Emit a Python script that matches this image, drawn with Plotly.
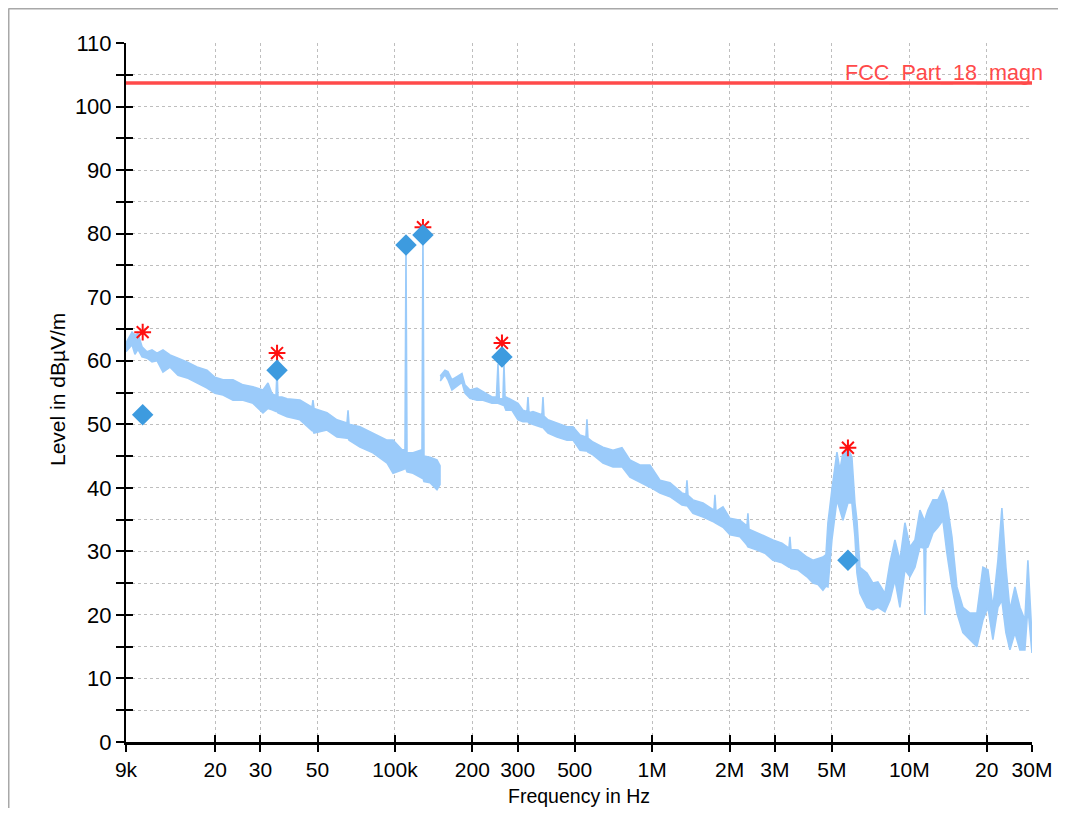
import math
import plotly.graph_objects as go

# ---------------- data ----------------
# Peak spectrum, segment 1 (9 kHz .. 150 kHz): upper / lower envelope of the trace
seg1_freq_khz = [9.0, 9.5, 9.75, 10.02, 10.39, 10.86, 11.36, 11.88, 12.53, 13.35,
                 14.34, 15.54, 17.0, 18.59, 19.96, 21.45, 23.46, 25.66, 28.05, 30.68,
                 32.09, 33.27, 34.48, 34.79, 35.09, 36.38, 38.04, 42.74, 47.6, 48.0,
                 48.45, 54.4, 59.5, 65.1, 65.7, 66.3, 73.1, 82.1, 93.2, 98.3,
                 106.5, 109.4, 110.4, 111.4, 117.6, 127.4, 128.5, 129.7, 136.9, 145.7,
                 149.7]
seg1_hi = [62.8, 64.5, 64.0, 64.3, 62.2, 61.4, 61.7, 61.2, 61.7, 60.9,
           60.4, 59.8, 59.0, 58.5, 57.4, 57.0, 57.0, 56.2, 55.9, 55.4,
           56.5, 54.8, 54.5, 58.5, 54.3, 54.3, 54.0, 53.8, 52.7, 53.8,
           52.5, 51.8, 50.7, 50.2, 52.2, 50.0, 49.6, 48.6, 47.5, 47.5,
           46.0, 46.0, 77.5, 45.5, 45.5, 46.0, 80.5, 45.0, 44.8, 44.4,
           43.5]
seg1_lo = [61.4, 62.5, 61.0, 61.8, 60.6, 60.4, 59.8, 60.0, 58.2, 59.0,
           57.7, 57.3, 56.5, 55.7, 54.9, 54.6, 53.8, 53.8, 53.3, 51.8,
           52.5, 52.3, 52.0, 52.0, 51.8, 51.5, 51.2, 50.7, 49.0, 49.0,
           48.6, 49.1, 48.0, 47.8, 47.8, 47.5, 46.4, 45.5, 43.9, 42.3,
           42.8, 43.0, 43.0, 42.5, 42.3, 41.5, 41.5, 41.0, 40.8, 39.7,
           40.5]

# Peak spectrum, segment 2 (150 kHz .. 30 MHz)
seg2_freq_khz = [150.0, 156.5, 160.7, 166.6, 174.2, 182.2, 187.2, 195.8, 208.4, 219.9,
                 238.4, 248.0, 251.6, 254.5, 263.0, 265.4, 268.0, 270.2, 285.1, 300.9,
                 314.6, 326.2, 329.0, 332.0, 344.2, 373.0, 376.4, 379.7, 393.6, 426.5,
                 466.5, 492.3, 524.2, 553.0, 558.0, 563.0, 588.8, 644.0, 704.4, 763.5,
                 820.0, 896.8, 980.7, 1072.7, 1173.2, 1305.7, 1354.0, 1366.0, 1379.0, 1442.0,
                 1577.0, 1740.0, 1755.0, 1771.0, 1886.0, 2008.0, 2195.0, 2337.0, 2358.0, 2380.0,
                 2556.0, 2746.0, 2950.0, 3198.0, 3404.0, 3434.0, 3465.0, 3690.0, 4000.0, 4221.0,
                 4414.0, 4616.0, 4741.0, 4827.0, 5002.0, 5232.0, 5373.0, 5520.0, 5773.0, 5983.0,
                 6146.0, 6257.0, 6428.0, 6843.0, 7222.0, 7551.0, 8041.0, 8409.0, 8793.0, 9194.0,
                 9617.0, 10060.0, 10520.0, 11000.0, 11400.0, 11500.0, 11600.0, 11820.0, 12360.0, 12920.0,
                 13510.0, 14010.0, 14650.0, 15320.0, 16160.0, 17210.0, 18320.0, 19330.0, 20220.0, 21140.0,
                 22110.0, 22910.0, 23750.0, 24620.0, 25750.0, 26920.0, 28150.0, 28920.0, 30000.0]
seg2_hi = [57.6, 58.5, 58.3, 57.0, 57.5, 58.0, 56.2, 55.4, 55.7, 55.1,
           54.3, 54.3, 59.5, 54.0, 54.0, 59.5, 54.3, 54.3, 53.8, 53.3,
           52.2, 52.0, 54.3, 51.8, 52.0, 51.5, 54.3, 51.3, 50.7, 50.2,
           49.6, 49.6, 48.3, 48.0, 50.8, 47.8, 47.2, 46.4, 45.9, 46.3,
           44.4, 43.6, 43.6, 41.2, 40.8, 39.2, 39.0, 41.2, 38.8, 38.1,
           37.6, 36.5, 38.9, 36.3, 37.0, 35.2, 34.9, 34.0, 36.0, 33.5,
           32.9, 32.3, 31.8, 31.3, 30.5, 32.3, 30.3, 30.2, 29.1, 28.6,
           28.8, 29.1, 29.5, 34.5, 39.7, 45.6, 42.8, 45.5, 46.4, 44.8,
           37.6, 34.9, 27.5, 26.6, 25.0, 25.2, 23.4, 28.2, 31.8, 28.6,
           34.5, 30.7, 31.8, 36.5, 35.0, 34.9, 35.5, 36.5, 38.1, 38.1,
           39.7, 37.6, 32.3, 24.4, 21.2, 20.3, 20.3, 27.5, 27.1, 21.2,
           28.6, 36.8, 27.5, 20.8, 24.4, 21.2, 19.2, 28.6, 16.5]
seg2_lo = [56.8, 57.8, 57.0, 55.4, 56.0, 56.6, 54.9, 54.1, 53.8, 53.8,
           53.3, 53.3, 53.3, 53.3, 53.0, 53.0, 52.5, 52.2, 52.2, 50.7,
           50.4, 50.4, 50.4, 50.2, 50.0, 49.5, 49.5, 49.3, 48.6, 48.0,
           47.5, 47.5, 45.9, 45.8, 45.8, 45.6, 45.2, 43.9, 43.3, 43.3,
           41.7, 40.9, 40.1, 39.2, 38.6, 37.3, 37.2, 37.2, 37.0, 36.0,
           35.4, 34.6, 34.6, 34.4, 33.8, 32.6, 32.3, 31.0, 30.7, 30.7,
           30.2, 29.7, 28.6, 28.2, 27.5, 27.5, 27.3, 27.1, 26.0, 25.0,
           24.8, 23.9, 24.5, 24.4, 31.8, 38.1, 36.5, 34.9, 37.6, 37.6,
           32.3, 26.6, 23.4, 21.2, 20.8, 21.2, 20.5, 22.3, 25.5, 21.2,
           27.1, 26.0, 27.5, 30.7, 30.5, 20.0, 30.5, 30.7, 32.9, 33.8,
           34.9, 29.7, 24.4, 20.3, 17.2, 16.1, 15.0, 19.2, 21.2, 16.1,
           21.2, 22.3, 17.2, 14.5, 17.2, 14.5, 14.5, 21.2, 14.0]

# Final (quasi-peak) measurement points: blue diamonds
qp_freq_khz = [10.45, 34.8, 110.4, 128.5, 260.7, 5773.0]
qp_level = [51.5, 58.5, 78.2, 79.8, 60.6, 28.6]

# Peak critical points: red asterisks
pk_freq_khz = [10.45, 34.8, 128.5, 260.7, 5773.0]
pk_level = [64.5, 61.2, 81.0, 62.8, 46.3]

# Limit line
limit_name = "FCC_Part_18_magn"
limit_freq_khz = [9.0, 30000.0]
limit_level = [103.7, 103.7]

# Axes
x_tick_hz = [9e3, 2e4, 3e4, 5e4, 1e5, 2e5, 3e5, 5e5, 1e6, 2e6, 3e6, 5e6, 1e7, 2e7, 3e7]
x_tick_text = ["9k", "20", "30", "50", "100k", "200", "300", "500", "1M",
               "2M", "3M", "5M", "10M", "20", "30M"]
y_range = [0, 110]
x_title = "Frequency in Hz"
y_title = "Level in dBµV/m"

# ---------------- styling ----------------
FONT = "Liberation Sans, Arial, sans-serif"
TRACE_COL = "#9BCBFA"
QP_COL = "#3D9BDF"
PK_COL = "#FF1010"
LIM_COL = "#FF4A4A"
GRID_COL = "#BEBEBE"

# figure sits 8 px inside the page (default body margin)
W, H = 1058, 800
ML, MT = 118, 35
PW, PH = 906, 699
MR, MB = W - ML - PW, H - MT - PH


def band(freq_khz, hi, lo):
    xs = [f * 1e3 for f in freq_khz] + [f * 1e3 for f in reversed(freq_khz)]
    ys = list(hi) + list(reversed(lo))
    return xs, ys


fig = go.Figure()

for fr, hi, lo in [(seg1_freq_khz, seg1_hi, seg1_lo), (seg2_freq_khz, seg2_hi, seg2_lo)]:
    bx, by = band(fr, hi, lo)
    fig.add_trace(go.Scatter(x=bx, y=by, mode="lines", fill="toself",
                             fillcolor=TRACE_COL,
                             line=dict(color=TRACE_COL, width=1.6),
                             hoverinfo="skip", showlegend=False))

fig.add_trace(go.Scatter(x=[f * 1e3 for f in limit_freq_khz], y=limit_level,
                         mode="lines", line=dict(color=LIM_COL, width=3.5),
                         name=limit_name, showlegend=False))

fig.add_trace(go.Scatter(x=[f * 1e3 for f in pk_freq_khz], y=pk_level, mode="markers",
                         marker=dict(symbol="asterisk-open", size=14, color=PK_COL,
                                     line=dict(color=PK_COL, width=2)),
                         showlegend=False))

fig.add_trace(go.Scatter(x=[f * 1e3 for f in qp_freq_khz], y=qp_level, mode="markers",
                         marker=dict(symbol="diamond", size=16.5, color=QP_COL,
                                     line=dict(width=0)),
                         showlegend=False))

# empty trace so that the overlay axes (inner tick halves) are drawn
fig.add_trace(go.Scatter(x=[], y=[], xaxis="x2", yaxis="y2", showlegend=False))

xr = [math.log10(9e3) - 1e-6, math.log10(3e7) + 1e-6]

fig.update_layout(
    width=W, height=H,
    margin=dict(l=ML, r=MR, t=MT, b=MB, autoexpand=False),
    paper_bgcolor="white", plot_bgcolor="white",
    font=dict(family=FONT, size=21, color="black"),
    showlegend=False,
    xaxis=dict(type="log", range=xr, tickvals=x_tick_hz, ticktext=x_tick_text,
               ticks="outside", ticklen=7, tickwidth=2, tickcolor="black",
               showline=True, linewidth=3, linecolor="black",
               showgrid=True, gridcolor=GRID_COL, gridwidth=1, griddash="dot",
               zeroline=False, tickfont=dict(size=21), automargin=False),
    yaxis=dict(range=y_range, dtick=10, tick0=0,
               ticks="outside", ticklen=8, tickwidth=2, tickcolor="black",
               showline=True, linewidth=2, linecolor="black",
               showgrid=True, gridcolor=GRID_COL, gridwidth=1, griddash="dot",
               zeroline=False, tickfont=dict(size=22), automargin=False,
               minor=dict(dtick=5, tick0=0, ticks="outside", ticklen=8, tickwidth=2,
                          tickcolor="black", showgrid=True, gridcolor=GRID_COL,
                          gridwidth=1, griddash="dot")),
    xaxis2=dict(type="log", range=xr, overlaying="x", anchor="y2", side="bottom",
                tickvals=x_tick_hz, ticks="inside", ticklen=7, tickwidth=2,
                tickcolor="black", showticklabels=False, showgrid=False,
                showline=False, zeroline=False, automargin=False),
    yaxis2=dict(range=y_range, overlaying="y", anchor="x2", side="left",
                dtick=5, tick0=0, ticks="inside", ticklen=7, tickwidth=2,
                tickcolor="black", showticklabels=False, showgrid=False,
                showline=False, zeroline=False, automargin=False),
    annotations=[
        dict(text=limit_name, xref="paper", x=(1037 - ML) / PW, xanchor="right",
             yref="y", y=limit_level[0], yanchor="bottom", yshift=-4,
             showarrow=False, font=dict(color=LIM_COL, size=21.6)),
        # axis titles
        dict(text=x_title, xref="paper", x=0.5, xanchor="center",
             yref="paper", y=-(MB - 0.5) / PH, yanchor="bottom", borderpad=0,
             showarrow=False, font=dict(size=19.5)),
        dict(text=y_title, xref="paper", x=(57 - 8 - ML) / PW, xanchor="center",
             yref="paper", y=(742 - 390) / PH, yanchor="middle", textangle=-90,
             showarrow=False, font=dict(size=21)),
    ],
    shapes=[
        dict(type="line", xref="paper", yref="paper",
             x0=(0.5 - ML) / PW, x1=(W - ML) / PW,
             y0=1 + (MT - 0.75) / PH, y1=1 + (MT - 0.75) / PH,
             line=dict(color="#A8A8A8", width=1.5)),
        dict(type="line", xref="paper", yref="paper",
             x0=(0.75 - ML) / PW, x1=(0.75 - ML) / PW,
             y0=1 + (MT - 0.5) / PH, y1=-MB / PH,
             line=dict(color="#A8A8A8", width=1.5)),
    ],
)

fig.write_html("out.html")
